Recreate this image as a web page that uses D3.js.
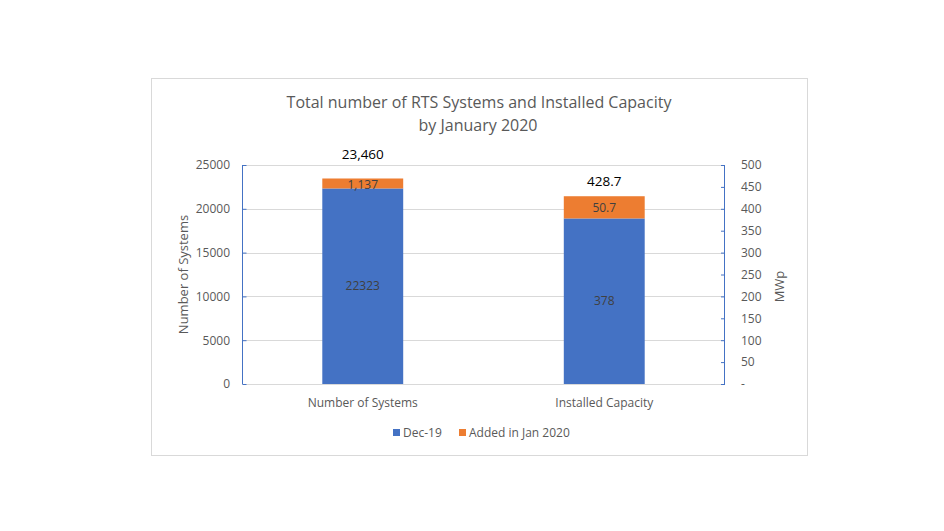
<!DOCTYPE html>
<html><head><meta charset="utf-8">
<script src="https://cdn.jsdelivr.net/npm/d3@7"></script>
<style>body{margin:0;background:#fff;font-family:"Open Sans",sans-serif;}</style>
</head><body>
<svg id="c" width="944" height="531"></svg>
<script>
const categories = ["Number of Systems", "Installed Capacity"];
const seriesNames = ["Dec-19", "Added in Jan 2020"];
const dec19 = [22323, 378];
const addedJan = [1137, 50.7];
const totalLabels = ["23,460", "428.7"];
const dec19Labels = ["22323", "378"];
const addedLabels = ["1,137", "50.7"];
const leftTicks = [0, 5000, 10000, 15000, 20000, 25000];
const rightTicks = [0, 50, 100, 150, 200, 250, 300, 350, 400, 450, 500];
const colors = ["#4472C4", "#ED7D31"];

const svg = d3.select("#c");
const textColor = "#595959";
svg.append("rect").attr("x", 151.5).attr("y", 78.5).attr("width", 656).attr("height", 377)
  .attr("fill", "#fff").attr("stroke", "#d9d9d9").attr("stroke-width", 1);

const L = 242, R = 725, T = 165, B = 384;
const x = d3.scaleBand().domain(categories).range([L, R]).paddingInner(0.665).paddingOuter(0.3325);
const yL = d3.scaleLinear().domain([0, 25000]).range([B, T]);
const yR = d3.scaleLinear().domain([0, 500]).range([B, T]);
const scales = [yL, yR];

// gridlines
svg.append("g").selectAll("line").data(leftTicks.slice(1)).join("line")
  .attr("x1", L).attr("x2", R).attr("y1", d => Math.round(yL(d)) + 0.5).attr("y2", d => Math.round(yL(d)) + 0.5)
  .attr("stroke", "#d9d9d9");
// bottom line
svg.append("line").attr("x1", L).attr("x2", R).attr("y1", B + 0.5).attr("y2", B + 0.5).attr("stroke", "#d9d9d9");

// bars
categories.forEach((c, i) => {
  const y = scales[i];
  const bx = x(c), bw = x.bandwidth();
  svg.append("rect").attr("x", bx).attr("width", bw).attr("y", y(dec19[i])).attr("height", y(0) - y(dec19[i])).attr("fill", colors[0]);
  svg.append("rect").attr("x", bx).attr("width", bw).attr("y", y(dec19[i] + addedJan[i])).attr("height", y(dec19[i]) - y(dec19[i] + addedJan[i])).attr("fill", colors[1]);
  const cx = bx + bw / 2;
  svg.append("text").attr("x", cx).attr("y", (y(0) + y(dec19[i])) / 2).attr("dy", "0.35em").attr("text-anchor", "middle")
    .attr("font-size", 12).attr("fill", "#404040").text(dec19Labels[i]);
  svg.append("text").attr("x", cx).attr("y", (y(dec19[i]) + y(dec19[i] + addedJan[i])) / 2 + (i === 0 ? 1 : 0)).attr("dy", "0.35em").attr("text-anchor", "middle")
    .attr("font-size", 12).attr("fill", "#404040").text(addedLabels[i]);
  svg.append("text").attr("x", cx).attr("y", i === 0 ? 154 : 181).attr("dy", "0.35em").attr("text-anchor", "middle")
    .attr("font-size", 13.5).attr("fill", "#000").text(totalLabels[i]);
});

// left axis
const axL = svg.append("g").attr("transform", `translate(${L},0)`)
  .call(d3.axisLeft(yL).tickValues(leftTicks).tickSize(-4).tickPadding(12).tickFormat(d3.format("d")));
axL.select(".domain").attr("stroke", colors[0]).attr("d", `M0.5,${T}V${B}`);
axL.selectAll(".tick line").attr("stroke", colors[0]).attr("x1", 0.5).attr("x2", 4.5);
axL.selectAll(".tick text").attr("font-size", 12).attr("fill", textColor).attr("font-family", "Open Sans").attr("x", -12);

// right axis
const axR = svg.append("g").attr("transform", `translate(${R},0)`)
  .call(d3.axisRight(yR).tickValues(rightTicks).tickSize(-4).tickPadding(16).tickFormat(d => d === 0 ? "-" : d));
axR.select(".domain").attr("stroke", colors[0]).attr("d", `M-0.5,${T}V${B}`);
axR.selectAll(".tick line").attr("stroke", colors[0]);
axR.selectAll(".tick text").attr("font-size", 12).attr("fill", textColor).attr("font-family", "Open Sans").attr("x", 16);

// category labels
svg.append("g").selectAll("text").data(categories).join("text")
  .attr("x", d => x(d) + x.bandwidth() / 2).attr("y", 403).attr("dy", "0.35em").attr("text-anchor", "middle")
  .attr("font-size", 12).attr("fill", textColor).text(d => d);

// axis titles
svg.append("text").attr("transform", `translate(183,${(T + B) / 2}) rotate(-90)`).attr("text-anchor", "middle").attr("dy", "0.35em")
  .attr("font-size", 13).attr("fill", textColor).text("Number of Systems");
svg.append("text").attr("transform", `translate(779,${(T + B) / 2 + 12}) rotate(-90)`).attr("text-anchor", "middle").attr("dy", "0.35em")
  .attr("font-size", 13).attr("fill", textColor).text("MWp");

// title
svg.append("text").attr("x", 479).attr("y", 102).attr("dy", "0.35em").attr("text-anchor", "middle")
  .attr("font-size", 16).attr("fill", textColor).text("Total number of RTS Systems and Installed Capacity");
svg.append("text").attr("x", 478).attr("y", 125).attr("dy", "0.35em").attr("text-anchor", "middle")
  .attr("font-size", 16).attr("fill", textColor).text("by January 2020");

// legend
const legX = [393, 459];
seriesNames.forEach((s, i) => {
  svg.append("rect").attr("x", legX[i]).attr("y", 429).attr("width", 7).attr("height", 7).attr("fill", colors[i]);
  svg.append("text").attr("x", legX[i] + 10).attr("y", 433).attr("dy", "0.35em").attr("font-size", 12).attr("fill", textColor).text(s);
});
</script>
</body></html>
